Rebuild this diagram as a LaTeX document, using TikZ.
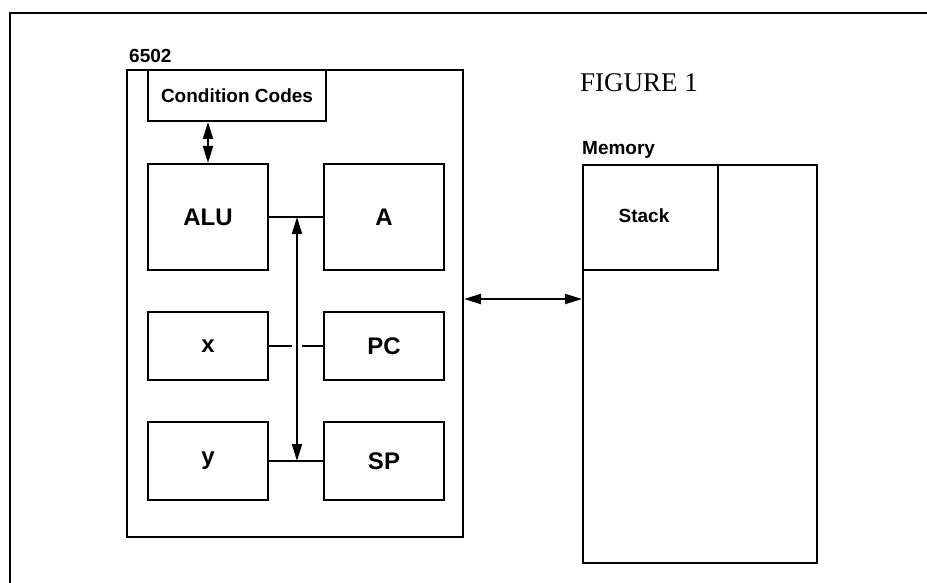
\documentclass[tikz,border=0pt]{standalone}
\usepackage{fontspec}
\setmainfont{Liberation Serif}
\newfontfamily\hv{Liberation Sans}
\usetikzlibrary{arrows.meta,calc}
\tikzset{
  box/.style={draw, line width=2pt, rectangle, inner sep=0pt, font=\hv\bfseries\fontsize{24}{28}\selectfont},
  smallbox/.style={box, font=\hv\bfseries\fontsize{19}{22}\selectfont},
  lbl/.style={inner sep=0pt, anchor=base west, font=\hv\bfseries\fontsize{19}{22}\selectfont},
  conn/.style={line width=2pt},
  biarrow/.style={conn, {Triangle[length=17pt,width=10pt]}-{Triangle[length=17pt,width=10pt]}}
}
\begin{document}
\begin{tikzpicture}[x=1pt,y=-1pt]
\useasboundingbox (0,0) rectangle (927,583);
% outer frame (only left and top edges visible)
\draw[line width=2.6pt] (10,583) -- (10,13) -- (927,13);
% CPU
\node[box, minimum width=336pt, minimum height=467pt] (cpu) at (295,303.5) {};
\node[lbl] (cpulbl) at (129,63) {6502};
\node[smallbox, minimum width=178pt, minimum height=51pt] (cc) at (237,95.5) {Condition Codes};
\node[box, minimum width=120pt, minimum height=106pt] (alu) at (208,217) {ALU};
\node[box, minimum width=120pt, minimum height=106pt] (a) at (384,217) {A};
\node[box, minimum width=120pt, minimum height=68pt] (x) at (208,346) {\raisebox{-3pt}{x}};
\node[box, minimum width=120pt, minimum height=68pt] (pc) at (384,346) {PC};
\node[box, minimum width=120pt, minimum height=78pt] (y) at (208,461) {\raisebox{-3pt}{y}};
\node[box, minimum width=120pt, minimum height=78pt] (sp) at (384,461) {SP};
% memory
\node[box, minimum width=234pt, minimum height=398pt] (mem) at (700,364) {};
\node[lbl] (memlbl) at (582,155) {Memory};
\node[smallbox, minimum width=135pt, minimum height=105pt, anchor=north west] (stack) at (mem.north west) {};
\node[inner sep=0pt, font=\hv\bfseries\fontsize{19}{22}\selectfont] (stacktxt) at (644,216) {Stack};
% title
\node[inner sep=0pt, anchor=base west, font=\fontsize{27}{32}\selectfont] (title) at (580,92) {FIGURE 1};
% coordinates
\coordinate (bustop) at (297,217);
\coordinate (busbot) at (297,461);
\coordinate (gapl) at (292,346);
\coordinate (gapr) at (302,346);
\coordinate (link) at (520,299);
% connectors
\draw[biarrow] (alu.north |- cc.south) -- (alu.north);
\draw[conn] (alu.east) -- (a.west);
\draw[conn] (x.east) -- (gapl);
\draw[conn] (gapr) -- (pc.west);
\draw[conn] (y.east) -- (sp.west);
\draw[biarrow] (bustop) -- (busbot);
\draw[biarrow] (cpu.east |- link) -- (mem.west |- link);
\end{tikzpicture}
\end{document}
